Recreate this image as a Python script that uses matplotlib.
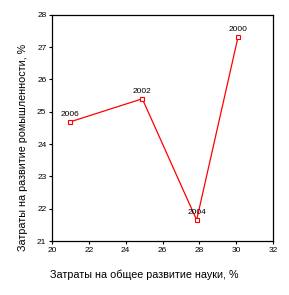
import matplotlib
matplotlib.use("Agg")
import matplotlib.pyplot as plt

plt.rcParams['font.family'] = ['Liberation Sans', 'DejaVu Sans']

# Data
years = ['2006', '2002', '2004', '2000']
science = [20.95, 24.9, 27.85, 30.1]
industry = [24.68, 25.4, 21.65, 27.32]

fig = plt.figure(figsize=(2.89, 2.95), dpi=100)
ax = fig.add_axes([0.18, 0.183, 0.765, 0.767])

ax.plot(science, industry, color='red', lw=0.9, marker='s', markersize=3,
        markerfacecolor='white', markeredgecolor='red', markeredgewidth=0.8)

for x, y, lab in zip(science, industry, years):
    ax.annotate(lab, (x, y), xytext=(0, 3), textcoords='offset points',
                ha='center', va='bottom', fontsize=6)

ax.set_xlim(20, 32)
ax.set_ylim(21, 28)
ax.set_xticks(range(20, 33, 2))
ax.set_yticks(range(21, 29))
ax.tick_params(labelsize=6, length=2.5, width=0.8, direction='out', pad=1.5)
for s in ax.spines.values():
    s.set_linewidth(0.9)

# axis titles are centred on the whole figure in the original
fig.text(0.5, 0.068, 'Затраты на общее развитие науки, %', fontsize=7.75,
         ha='center', va='center')
fig.text(0.08, 0.5, 'Затраты на развитие ромышленности, %', fontsize=7.75,
         ha='center', va='center', rotation=90)

fig.savefig('out.png', dpi=100)
